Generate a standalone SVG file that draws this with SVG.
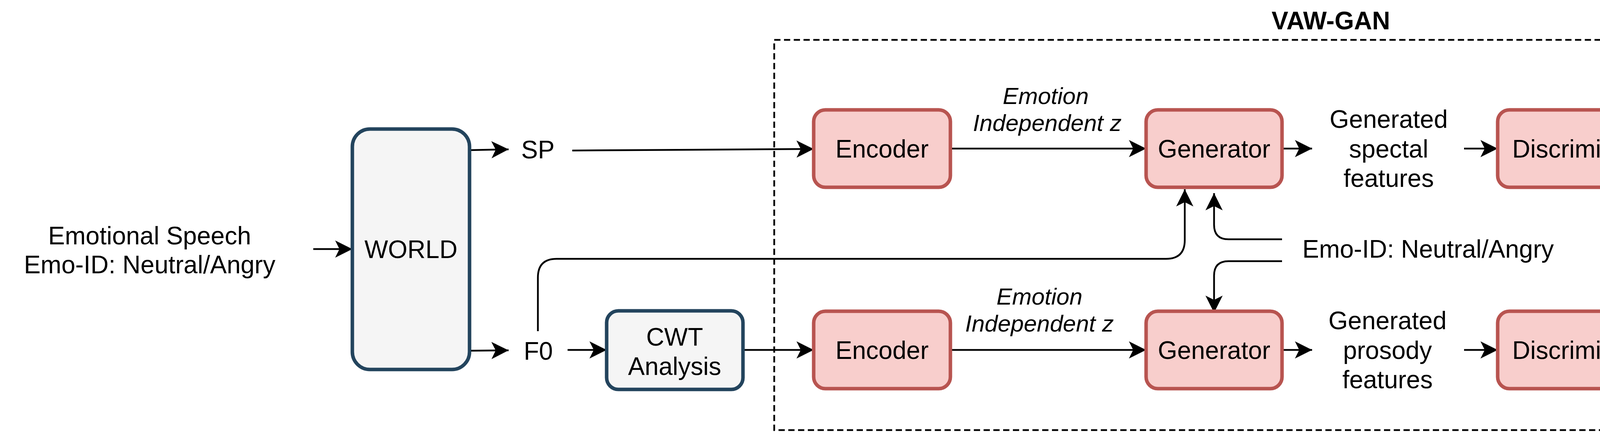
<svg xmlns="http://www.w3.org/2000/svg" width="4810" height="1110" viewBox="0 0 4810 1110">
<style>
text{font-family:"Liberation Sans",Arial,Helvetica,sans-serif;font-size:64px;fill:#000}
.it{font-style:italic;font-size:60px}
.b{font-weight:bold}
.red{fill:#f8cecc;stroke:#b85450;stroke-width:9}
.gray{fill:#f5f5f5;stroke:#23445d;stroke-width:9}
.c{fill:none;stroke:#000;stroke-width:4.5}
.a{marker-end:url(#arr)}
.m{text-anchor:middle}
</style>
<defs>
<marker id="arr" markerUnits="userSpaceOnUse" markerWidth="50" markerHeight="50" viewBox="-2 -25 50 50" refX="44" refY="0" orient="auto">
<path d="M0,-22 L44,0 L0,22 L11,0 Z" fill="#000"/>
</marker>
</defs>
<rect id="vawgan-frame" x="1982" y="102" width="2802" height="998" fill="none" stroke="#000" stroke-width="4.5" stroke-dasharray="16 9"/>
<text class="b m" x="3407" y="75">VAW-GAN</text>
<g id="connectors">
<path class="c a" d="M802,637 L902,637"/>
<path class="c a" d="M1202,384 L1302,382"/>
<path class="c a" d="M1465,385 L2083,381"/>
<path class="c a" d="M1202,897 L1302,896"/>
<path class="c a" d="M1453,895 L1553,895"/>
<path class="c a" d="M1902,895 L2083,895"/>
<path class="c a" d="M2433,380 L2934,380"/>
<path class="c a" d="M2433,895 L2934,895"/>
<path class="c a" d="M3282,380 L3359,380"/>
<path class="c a" d="M3282,895 L3359,895"/>
<path class="c a" d="M3748,380 L3834,380"/>
<path class="c a" d="M3748,895 L3834,895"/>
<path class="c a" d="M4282,380 L4360,380"/>
<path class="c a" d="M4282,895 L4360,895"/>
<path class="c a" d="M1377,847 L1377,710 Q1377,662 1425,662 L2985,662 Q3033,662 3033,614 L3033,484"/>
<path class="c a" d="M3282,612 L3145,612 Q3108,612 3108,575 L3108,494"/>
<path class="c a" d="M3282,668 L3145,668 Q3108,668 3108,705 L3108,800"/>
</g>
<g id="input-label">
<text class="m" x="383" y="625">Emotional Speech</text>
<text class="m" x="383" y="699">Emo-ID: Neutral/Angry</text>
</g>
<g id="world">
<rect class="gray" x="902" y="330" width="300" height="615" rx="45"/>
<text class="m" x="1052" y="660">WORLD</text>
</g>
<g id="sp"><text class="m" x="1377" y="405">SP</text></g>
<g id="f0"><text class="m" x="1378" y="920">F0</text></g>
<g id="cwt">
<rect class="gray" x="1553" y="795" width="349" height="201" rx="30"/>
<text class="m" x="1727" y="884">CWT</text>
<text class="m" x="1727" y="959">Analysis</text>
</g>
<g id="encoder-sp">
<rect class="red" x="2083" y="281" width="350" height="198" rx="30"/>
<text class="m" x="2258" y="403">Encoder</text>
</g>
<g id="encoder-f0">
<rect class="red" x="2083" y="796" width="350" height="198" rx="30"/>
<text class="m" x="2258" y="918">Encoder</text>
</g>
<g id="label-z-sp">
<text class="it m" x="2677" y="266">Emotion</text>
<text class="it m" x="2681" y="335">Independent z</text>
</g>
<g id="label-z-f0">
<text class="it m" x="2661" y="779">Emotion</text>
<text class="it m" x="2661" y="848">Independent z</text>
</g>
<g id="generator-sp">
<rect class="red" x="2934" y="281" width="348" height="198" rx="30"/>
<text class="m" x="3108" y="403">Generator</text>
</g>
<g id="generator-f0">
<rect class="red" x="2934" y="796" width="348" height="198" rx="30"/>
<text class="m" x="3108" y="918">Generator</text>
</g>
<g id="emo-id">
<text x="3334" y="659">Emo-ID: Neutral/Angry</text>
</g>
<g id="generated-sp">
<text class="m" x="3555" y="327">Generated</text>
<text class="m" x="3555" y="403">spectal</text>
<text class="m" x="3555" y="478">features</text>
</g>
<g id="generated-f0">
<text class="m" x="3552" y="842">Generated</text>
<text class="m" x="3552" y="918">prosody</text>
<text class="m" x="3552" y="993">features</text>
</g>
<g id="discriminator-sp">
<rect class="red" x="3834" y="281" width="448" height="198" rx="30"/>
<text class="m" x="4058" y="403">Discriminator</text>
</g>
<g id="discriminator-f0">
<rect class="red" x="3834" y="796" width="448" height="198" rx="30"/>
<text class="m" x="4058" y="918">Discriminator</text>
</g>
<g id="real-sp"><text x="4400" y="403">Real or not ?</text></g>
<g id="real-f0"><text x="4400" y="918">Real or not ?</text></g>
</svg>
